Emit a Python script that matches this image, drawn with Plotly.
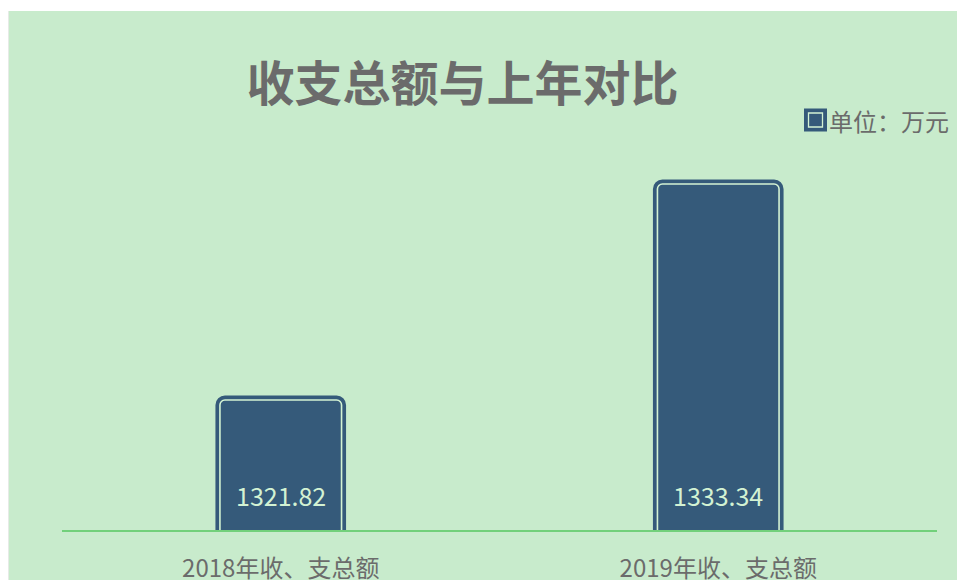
import plotly.graph_objects as go

categories = ["2018年收、支总额", "2019年收、支总额"]
values = [1321.82, 1333.34]
value_labels = ["1321.82", "1333.34"]
series_name = "单位：万元"
title_text = "收支总额与上年对比"

BG = "#c8ebcc"
BAR = "#355a7a"
LIGHT = "#d3f2d3"
GRAY = "#6b6b6b"
FONT = "Noto Sans CJK SC"

y_min = 1314.89
y_max = 1337.29

fig = go.Figure()
# outer dark border
fig.add_trace(go.Bar(
    x=categories, y=values, width=0.278,
    marker=dict(color=BAR, line=dict(color=BAR, width=9)),
    showlegend=False, hoverinfo="skip",
))
# inner bar with light outline
fig.add_trace(go.Bar(
    x=categories, y=values, width=0.278, name=series_name,
    marker=dict(color=BAR, line=dict(color=LIGHT, width=1.6)),
    showlegend=False,
))

for c, lab in zip(categories, value_labels):
    fig.add_annotation(x=c, y=y_min, text=lab, showarrow=False,
                       yanchor="bottom", yshift=15,
                       font=dict(family=FONT, size=25, color=LIGHT))

L, R, T, B = 62, 20, 110, 50
W, H = 957, 580
pw, ph = W - L - R, H - T - B


def px(x):
    return (x - L) / pw


def py(y):
    return (H - B - y) / ph


# white strips top/left
fig.add_shape(type="rect", xref="paper", yref="paper",
              x0=px(0), x1=px(W + 5), y0=py(11), y1=py(-5),
              fillcolor="white", line_width=0, layer="below")
fig.add_shape(type="rect", xref="paper", yref="paper",
              x0=px(-5), x1=px(9), y0=py(H + 5), y1=py(-5),
              fillcolor="white", line_width=0, layer="below")
fig.add_shape(type="line", xref="paper", yref="paper",
              x0=px(8.5), x1=px(8.5), y0=py(H + 5), y1=py(11),
              line=dict(color="#e6ebe6", width=1), layer="below")

# legend (series name with its swatch)
fig.add_shape(type="rect", xref="paper", yref="paper",
              x0=px(805.5), x1=px(825.5), y0=py(130), y1=py(110),
              fillcolor=BAR, line=dict(color=BAR, width=3))
fig.add_shape(type="rect", xref="paper", yref="paper",
              x0=px(808.5), x1=px(822.5), y0=py(127), y1=py(113),
              fillcolor=BAR, line=dict(color=LIGHT, width=1.3))
fig.add_annotation(xref="paper", yref="paper", x=px(827), y=py(120),
                   xanchor="left", yanchor="middle", showarrow=False,
                   text=series_name, font=dict(family=FONT, size=24, color=GRAY))

fig.update_layout(
    width=W, height=H, autosize=False,
    margin=dict(l=L, r=R, t=T, b=B, pad=0, autoexpand=False),
    paper_bgcolor=BG, plot_bgcolor=BG,
    barmode="overlay", barcornerradius=5,
    showlegend=False,
    title=dict(text="<b>" + title_text + "</b>", x=462.5 / W, xanchor="center",
               y=1 - 84 / H, yanchor="middle", yref="container",
               font=dict(family=FONT, size=48, color=GRAY)),
    font=dict(family=FONT),
    xaxis=dict(showgrid=False, showline=True, linecolor="#72d07b", linewidth=2,
               ticks="", tickfont=dict(family=FONT, size=24, color=GRAY),
               ticklabelstandoff=16, automargin=False, fixedrange=True),
    yaxis=dict(range=[y_min, y_max], visible=False, showgrid=False,
               automargin=False, fixedrange=True),
)

fig.write_html(
    "out.html",
    config={"responsive": False, "displayModeBar": False},
    post_script="document.body.style.margin='0';document.body.style.overflow='hidden';",
)
